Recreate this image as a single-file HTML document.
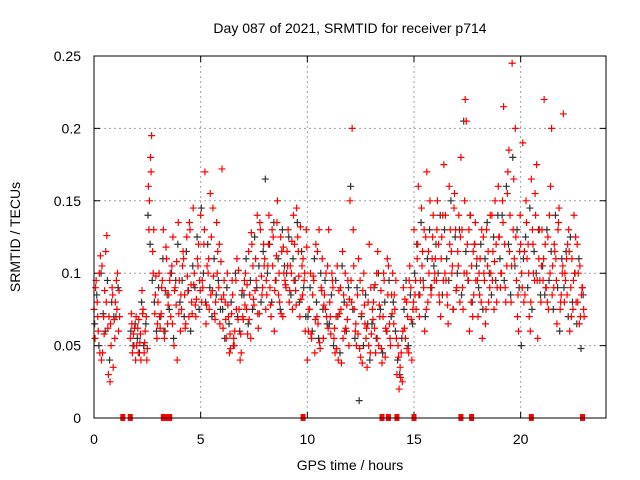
<!DOCTYPE html>
<html><head><meta charset="utf-8"><style>
body{margin:0;background:#fff;}
svg{display:block;font-family:"Liberation Sans",sans-serif;}
</style></head><body>
<svg id="chart" width="640" height="480" viewBox="0 0 640 480" xmlns="http://www.w3.org/2000/svg">
<text x="350" y="33" font-size="14" text-anchor="middle">Day 087 of 2021, SRMTID for receiver p714</text>
<text transform="translate(20,237) rotate(-90)" font-size="14" text-anchor="middle">SRMTID / TECUs</text>
<text x="350" y="470" font-size="14" text-anchor="middle">GPS time / hours</text>
<g id="grid"></g>
<g id="axes"></g>
<g id="black"></g>
<g id="red"></g>
<g id="marks"></g>
<rect x="94" y="56" width="512" height="362" fill="none" stroke="#000" stroke-width="1"/>
</svg>
<script>
// values in milli-TECU, 10 samples per hour starting at 0h
const redA=[75,95,60,112,45,88,126,70,50,35, 80,100,70,null,null,null,null,55,45,62, 50,68,40,75,60,48,150,195,130,98, 80,62,95,55,110,85,70,125,90,40, 95,75,110,65,88,130,72,100,82,120, 140,90,170,105,75,125,98,80,115,65, 172,95,55,70,48,85,60,110,75,45, 68,100,58,85,120,78,95,62,130,90, 110,85,140,70,125,95,150,80,115,100, 90,130,105,75,120,145,98,82,110,60, 40,75,55,95,120,65,48,110,85,70, 130,58,90,45,105,72,38,85,62,95, 150,200,75,50,110,42,88,65,35,120, 58,80,45,115,70,38,95,60,105,50, 100,75,30,20,45,90,55,70,105,40, 130,75,160,95,115,60,170,100,85,140, 110,150,80,125,175,95,65,130,105,155, 90,140,180,75,220,120,60,105,85,95, 70,110,55,95,130,80,100,115,150,90, 125,100,215,80,170,140,245,110,95,60, 120,190,85,110,70,165,100,140,55,95, 130,220,90,75,160,105,115,65,145,85, 210,95,120,60,110,140,80,100,70,90];
const redB=[55,80,100,40,70,115,62,25,90,68, 95,60,null,null,null,null,null,72,58,40, 62,52,88,45,70,160,180,115,72,55, 100,72,130,88,65,95,105,50,78,135, 60,105,85,125,70,92,145,78,110,95, 80,120,65,100,155,88,72,135,90,108, 62,80,100,45,72,55,95,68,40,88, 95,75,115,55,105,88,140,72,98,120, 75,105,90,130,60,112,85,125,70,95, 115,80,100,140,88,125,70,105,95,130, 60,100,85,45,70,130,90,55,75,105, 80,100,55,70,40,90,115,60,78,50, 95,130,60,85,48,72,100,55,80,45, 75,62,100,50,88,70,42,110,65,85, 65,95,50,35,25,62,80,45,90,75, 85,110,70,145,90,125,80,150,110,95, 95,120,70,140,100,85,160,115,75,130, 115,80,130,100,205,95,140,70,120,110, 100,80,125,65,105,90,140,75,120,160, 90,150,120,105,185,80,130,200,70,115, 100,80,150,120,60,130,95,175,110,80, 95,120,80,140,200,90,110,130,75,100, 80,110,130,90,75,100,120,65,85,75];
const redC=[90,70,45,105,58,80,30,65,85,55, 75,88,null,null,null,null,null,65,50,70, 45,58,72,52,40,130,170,100,85,65, 70,90,60,118,78,100,65,88,108,72, 85,115,62,98,135,80,92,70,105,88, 95,130,78,110,85,145,68,100,120,82, 85,68,78,58,95,50,75,102,58,70, 78,92,68,128,82,110,72,135,85,105, 95,120,78,105,88,135,100,72,118,92, 105,88,122,95,78,115,132,85,100,118, 75,58,98,68,115,52,88,78,100,62, 70,95,62,48,88,75,55,100,68,82, 80,105,65,58,95,38,78,62,50,90, 68,92,55,78,48,100,62,85,55,72, 85,55,42,28,60,82,48,95,68,80, 95,120,85,105,130,75,115,90,125,100, 130,85,110,95,140,78,120,100,145,88, 105,125,90,150,100,130,80,115,135,95, 85,130,100,75,115,140,95,108,80,125, 100,135,90,155,115,105,165,125,85,140, 90,115,135,100,80,120,155,95,130,105, 110,90,125,100,85,120,95,135,80,105, 100,85,115,70,95,125,80,105,90,70];
const blackV=[65,85,50,100,72,60,95,40,80,70, 70,90,null,null,null,null,null,60,50,65, 55,45,80,50,65,140,120,95,80,60, 90,70,110,60,85,75,100,55,95,120, 80,95,70,115,88,60,105,90,125,75, 145,100,80,120,90,70,110,85,95,75, 75,55,90,65,80,50,100,70,60,85, 85,110,65,95,75,125,90,105,80,115, 165,100,120,80,135,95,110,75,130,105, 100,125,85,110,95,135,80,115,90,70, 70,90,60,110,80,55,100,75,95,65, 65,85,50,95,70,45,105,80,60,90, 160,75,55,90,12,70,50,85,65,40, 65,90,55,100,75,45,80,60,95,70, 80,60,40,30,55,75,95,50,85,65, 100,120,85,135,95,70,110,130,90,105, 120,100,140,85,130,110,95,150,75,125, 100,130,85,205,115,95,140,80,120,105, 90,120,75,110,135,100,85,125,95,140, 110,140,95,160,120,85,180,105,130,90, 50,110,125,90,145,75,115,100,130,85, 105,85,130,95,115,75,140,90,60,110, 90,115,70,125,80,100,65,110,48,85];
const gapTimes=[1.35,1.7,3.25,3.4,3.55,9.8,13.5,13.8,14.2,15.0,17.2,17.7,20.5,22.9];
const xTicks=[0,5,10,15,20];
const yTicks=[0,0.05,0.1,0.15,0.2,0.25];
const yTickLabels=["0","0.05","0.1","0.15","0.2","0.25"];

const NS="http://www.w3.org/2000/svg";
const X=t=>94+t*(512/24);
const Y=v=>418-v*(362/0.25);
function mk(tag,parent,attrs){const e=document.createElementNS(NS,tag);for(const k in attrs)e.setAttribute(k,attrs[k]);parent.appendChild(e);return e;}
const grid=document.getElementById('grid'),axes=document.getElementById('axes');
xTicks.forEach(t=>{
  if(t>0){const g=mk('line',grid,{x1:X(t),x2:X(t),y1:56,y2:418,stroke:'#a0a0a0','stroke-dasharray':'2,3'});
  
  }
  const tk=mk('path',axes,{d:`M${X(t)},418v-6M${X(t)},56v6`,stroke:'#000'});
  
  
  const l=mk('text',axes,{x:X(t),y:444,'font-size':14,'text-anchor':'middle'});l.textContent=t;
  
  
});
yTicks.forEach((v,i)=>{
  if(v>0&&v<0.25){const g=mk('line',grid,{x1:94,x2:606,y1:Y(v),y2:Y(v),stroke:'#a0a0a0','stroke-dasharray':'2,3'});
  
  }
  const tk=mk('path',axes,{d:`M94,${Y(v)}h6M606,${Y(v)}h-6`,stroke:'#000'});
  
  
  const l=mk('text',axes,{x:81,y:Y(v)+5,'font-size':14,'text-anchor':'end'});l.textContent=yTickLabels[i];
  
  
});
function plus(parent,arr,color,off){
  let d='';
  arr.forEach((v,i)=>{if(v==null)return;const x=X(i/10+off),y=Y(v/1000);d+=`M${x-3.5},${y}h7M${x},${y-3.5}v7`;});
  const p=mk('path',parent,{d:d,stroke:color,'stroke-width':1.2,fill:'none'});
  
  
}
plus(document.getElementById('black'),blackV,'#333',0.03);
plus(document.getElementById('red'),redA,'#ff0000',0);
plus(document.getElementById('red'),redB,'#ff0000',0.05);
plus(document.getElementById('red'),redC,'#ff0000',0.075);
const marks=document.getElementById('marks');
gapTimes.forEach(t=>{
  const r=mk('rect',marks,{x:X(t)-2.5,y:414,width:5,height:7,fill:'#ff0000'});
  
  
});
</script>
</body></html>
